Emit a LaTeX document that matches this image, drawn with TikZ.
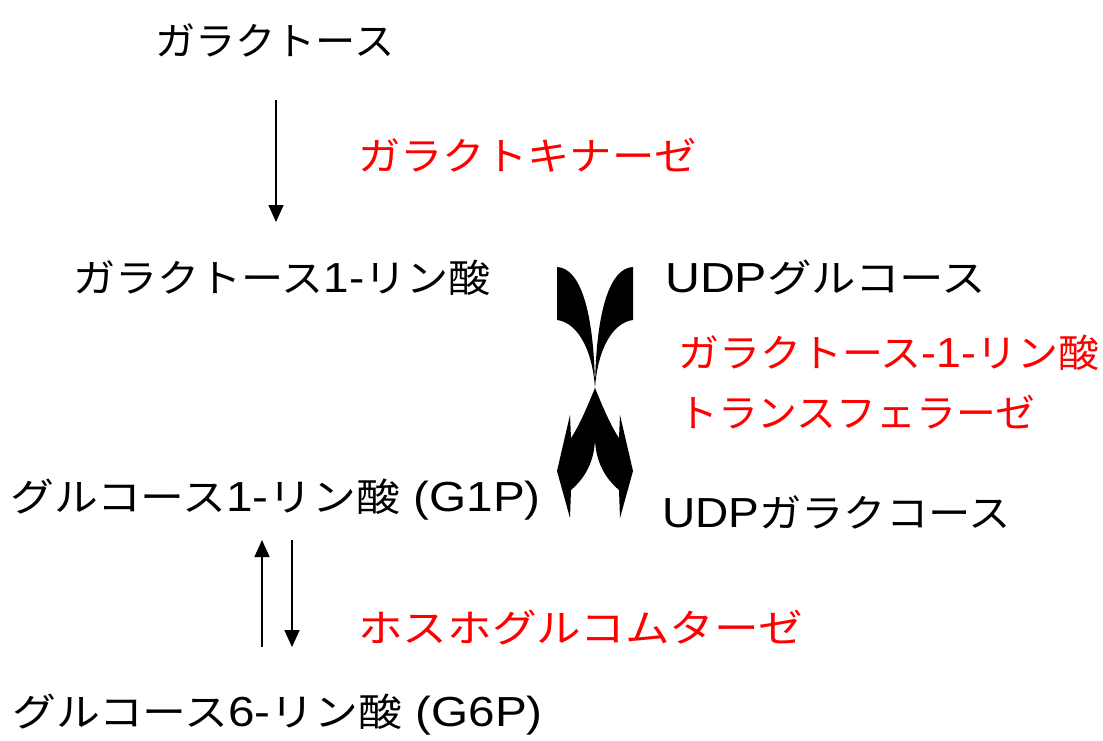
\documentclass[tikz,border=0pt]{standalone}
\usepackage{graphicx}
\usepackage{fontspec}
\setmainfont{Liberation Sans}
\newfontfamily\jp{Noto Sans CJK JP}[Scale=0.92]
\usetikzlibrary{arrows.meta}
\definecolor{labred}{RGB}{255,0,0}
\newcommand{\hsq}[2]{\scalebox{#1}[1]{#2}}
\tikzset{
  lbl/.style={anchor=west,inner sep=0pt,font=\fontsize{42}{50}\selectfont},
  enz/.style={lbl,text=labred},
  rx/.style={line width=1.5pt,-{Triangle[width=15pt,length=17pt]}},
}
\begin{document}
\begin{tikzpicture}[x=1pt,y=-1pt]
\useasboundingbox (0,0) rectangle (1103,740);
\node[lbl] (gal) at (155,40) {\hsq{1.04}{\jp ガラクトース}};
\node[enz] (gk) at (358,155) {\hsq{1.095}{\jp ガラクトキナーゼ}};
\node[lbl] (gal1p) at (73,278) {\hsq{1.09}{{\jp ガラクトース}1-{\jp リン酸}}};
\node[lbl] (udpglc) at (665,278) {\hsq{1.15}{UDP{\jp グルコース}}};
\node[enz] (galt1) at (678,353) {\hsq{1.06}{{\jp ガラクトース}-1-{\jp リン酸}}};
\node[enz] (galt2) at (678,412) {\hsq{1.03}{\jp トランスフェラーゼ}};
\node[lbl] (g1p) at (10,500) {\hsq{1.135}{{\jp グルコース}1-{\jp リン酸} (G1P)}};
\node[lbl] (udpgal) at (662,512) {\hsq{1.095}{UDP{\jp ガラクコース}}};
\node[enz] (pgm) at (358,628) {\hsq{1.155}{\jp ホスホグルコムターゼ}};
\node[lbl] (g6p) at (12,715) {\hsq{1.135}{{\jp グルコース}6-{\jp リン酸} (G6P)}};
\coordinate (a1s) at (276,100);
\coordinate (a1e) at (276,222);
\coordinate (a2s) at (262,647);
\coordinate (a2e) at (262,540);
\coordinate (a3s) at (292,540);
\coordinate (a3e) at (292,647);
\draw[rx] (a1s) -- (a1e);
\draw[rx] (a2s) -- (a2e);
\draw[rx] (a3s) -- (a3e);
% crossed curved arrows
\coordinate (cx) at (595,388);
\coordinate (cb) at (595,440);
\fill (633,267) .. controls (610,268) and (596,310) .. (cx)
  .. controls (590,400) and (580,425) .. (571,438)
  -- (570,415) -- (557,471) -- (570,518) -- (571,490)
  .. controls (585,478) and (594,462) .. (cb) -- (cx)
  .. controls (598,345) and (615,322) .. (633,320) -- cycle;
\fill (557,267) .. controls (580,268) and (594,310) .. (cx)
  .. controls (600,400) and (610,425) .. (619,438)
  -- (620,415) -- (633,471) -- (620,518) -- (619,490)
  .. controls (605,478) and (596,462) .. (cb) -- (cx)
  .. controls (592,345) and (575,322) .. (557,320) -- cycle;
\end{tikzpicture}
\end{document}
